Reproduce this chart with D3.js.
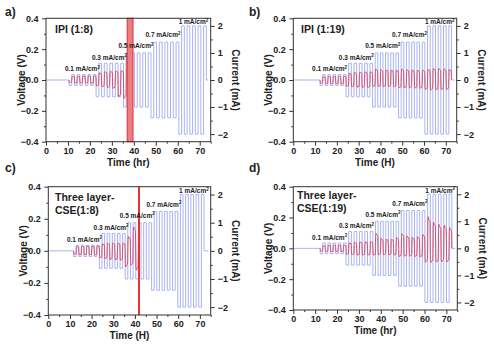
<!DOCTYPE html>
<html><head><meta charset="utf-8">
<script src="https://cdn.jsdelivr.net/npm/d3@7"></script>
<style>
body{margin:0;background:#fff}
svg{display:block}
text{font-family:"Liberation Sans",Arial,sans-serif;font-weight:bold;fill:#222}
</style>
</head><body><svg id="chart" width="494" height="348"></svg>
<script>
// ---------- shared data ----------
const xTicks = [0, 10, 20, 30, 40, 50, 60, 70];
const xMinor = [5, 15, 25, 35, 45, 55, 65, 75];
const vTicks = [-0.4, -0.2, 0, 0.2, 0.4];
const vMinor = [-0.3, -0.1, 0.1, 0.3];
const iTicks = [-2, -1, 0, 1, 2];
const iMinor = [-1.5, -0.5, 0.5, 1.5];
const densityLabels = ["0.1 mA/cm", "0.3 mA/cm", "0.5 mA/cm", "0.7 mA/cm", "1 mA/cm"];
const labelHr = [8.6, 20.9, 33.0, 45.3, 60.4];
const labelV = [0.057, 0.131, 0.205, 0.276, 0.36];
const currents = [0.2, 0.62, 1.0, 1.4, 2.0];   // mA per step

// ---------- panel a: IPI (1:8) ----------
const aStarts = [10.5, 22.8, 35.3, 47.8, 60.5];
const aEnd = 73.0;
const aTroughs = [-0.018, -0.02, -0.02, -0.021, -0.022, -0.04, -0.045, -0.05, -0.055, -0.11, -0.12];
const aPeaks   = [0.024, 0.026, 0.027, 0.028, 0.028, 0.048, 0.055, 0.058, 0.06, 0.062, 0.155];
const aFail = [37.0, 39.6];

// ---------- panel b: IPI (1:19) ----------
const bStarts = [12.3, 24.2, 36.4, 48.3, 60.4];
const bEnd = 72.6;
const bTroughs = [-0.022, -0.024, -0.025, -0.025, -0.026, -0.042, -0.046, -0.048, -0.05, -0.05,
                  -0.045, -0.043, -0.043, -0.044, -0.045, -0.052, -0.052, -0.052, -0.054, -0.055,
                  -0.062, -0.066, -0.065, -0.064, -0.062];
const bPeaks   = [0.022, 0.024, 0.025, 0.026, 0.026, 0.045, 0.05, 0.052, 0.054, 0.055,
                  0.072, 0.068, 0.066, 0.065, 0.065, 0.072, 0.068, 0.066, 0.065, 0.065,
                  0.07, 0.076, 0.075, 0.073, 0.07];

// ---------- panel c: Three layer-CSE (1:8) ----------
const cStarts = [11.7, 23.6, 35.5, 47.7, 59.8];
const cEnd = 71.9;
const cTroughs = [-0.022, -0.025, -0.025, -0.026, -0.027, -0.045, -0.05, -0.055, -0.058, -0.06, -0.1, -0.09, -0.12];
const cPeaks   = [0.028, 0.03, 0.03, 0.03, 0.031, 0.045, 0.048, 0.05, 0.05, 0.05, 0.09, 0.15, 0.25];
const cFail = [41.9];

// ---------- panel d: Three layer-CSE (1:19) ----------
const dStarts = [12.3, 24.1, 36.4, 48.2, 60.2];
const dEnd = 72.5;
const dTroughs = [-0.02, -0.022, -0.022, -0.022, -0.022, -0.04, -0.043, -0.045, -0.045, -0.045,
                  -0.045, -0.043, -0.043, -0.044, -0.045, -0.054, -0.052, -0.052, -0.054, -0.056,
                  -0.09, -0.092, -0.09, -0.088, -0.088];
const dPeaks   = [0.018, 0.02, 0.022, 0.022, 0.022, 0.036, 0.04, 0.043, 0.043, 0.045,
                  0.097, 0.065, 0.06, 0.06, 0.07, 0.095, 0.08, 0.072, 0.075, 0.09,
                  0.205, 0.17, 0.155, 0.15, 0.135];

// half-cycle voltage profile (fraction of half period, fraction of extreme)
const shapeFrac = [0.08, 0.22, 0.5, 0.88, 1.0];
const shapeVal  = [0.8, 1.0, 0.9, 0.85, 0.0];

// ---------- layout table built from the arrays ----------
const panels = [
  {tag: "a)", tagX: 5, tagY: 16, L: 46, R: 210.7, T: 18.3, B: 141.7, xTitle: "Time (hr)",
   title: ["IPI (1:8)"], titleX: 55, titleY: 33, starts: aStarts, end: aEnd,
   troughs: aTroughs, peaks: aPeaks, band: aFail},
  {tag: "b)", tagX: 249, tagY: 16, L: 293.3, R: 456.7, T: 18.3, B: 141.7, xTitle: "Time (H)",
   title: ["IPI (1:19)"], titleX: 301, titleY: 33, starts: bStarts, end: bEnd,
   troughs: bTroughs, peaks: bPeaks},
  {tag: "c)", tagX: 5, tagY: 172, L: 48.3, R: 210.7, T: 186.7, B: 315, xTitle: "Time (H)",
   title: ["Three layer-", "CSE(1:8)"], titleX: 55, titleY: 200.5, starts: cStarts, end: cEnd,
   troughs: cTroughs, peaks: cPeaks, line: cFail},
  {tag: "d)", tagX: 249, tagY: 172, L: 293.3, R: 457.3, T: 186.7, B: 310, xTitle: "Time (hr)",
   title: ["Three layer-", "CSE(1:19)"], titleX: 297, titleY: 198.5, starts: dStarts, end: dEnd,
   troughs: dTroughs, peaks: dPeaks}
];

const svg = d3.select("#chart");
const BLUE = "#a9b3f2", RED = "#d63f5d", AX = "#333";

panels.forEach((p, pi) => {
  const x = d3.scaleLinear().domain([0, 75]).range([p.L, p.R]);
  const yV = d3.scaleLinear().domain([-0.4, 0.4]).range([p.B, p.T]);
  const yI = d3.scaleLinear().domain([-2.28, 2.28]).range([p.B, p.T]);
  const g = svg.append("g");

  const clipId = "clip" + pi;
  g.append("clipPath").attr("id", clipId).append("rect")
    .attr("x", p.L).attr("y", p.T).attr("width", p.R - p.L).attr("height", p.B - p.T);

  // current square wave
  const bounds = p.starts.concat([p.end]);
  const cur = [[0, 0]];
  for (let b = 0; b < 5; b++) {
    const per = (bounds[b + 1] - bounds[b]) / 5;
    for (let k = 0; k < 5; k++) {
      const t0 = bounds[b] + k * per;
      cur.push([t0, -currents[b]]);
      cur.push([t0 + per / 2, currents[b]]);
    }
  }
  cur.push([p.end, 0]);
  cur.push([74, 0]);
  g.append("path").datum(cur)
    .attr("clip-path", `url(#${clipId})`)
    .attr("fill", "none").attr("stroke", BLUE).attr("stroke-width", 1)
    .attr("d", d3.line().x(d => x(d[0])).y(d => yI(d[1])).curve(d3.curveStepAfter));

  // voltage trace
  const vol = [[bounds[0], 0]];
  let c = 0;
  for (let b = 0; b < 5; b++) {
    const per = (bounds[b + 1] - bounds[b]) / 5;
    for (let k = 0; k < 5; k++, c++) {
      if (c >= p.troughs.length) break;
      const t0 = bounds[b] + k * per, h = per / 2;
      [[t0, p.troughs[c]], [t0 + h, p.peaks[c]]].forEach(([ts, amp]) => {
        shapeFrac.forEach((f, j) => vol.push([ts + f * h, amp * shapeVal[j]]));
      });
    }
  }
  let vClip = clipId;
  const stop = p.band ? p.band[0] : (p.line ? p.line[0] : null);
  if (stop !== null) {
    vClip = "vclip" + pi;
    g.append("clipPath").attr("id", vClip).append("rect")
      .attr("x", p.L).attr("y", p.T).attr("width", x(stop) - p.L).attr("height", p.B - p.T);
  }
  g.append("path").datum(vol)
    .attr("clip-path", `url(#${vClip})`)
    .attr("fill", "none").attr("stroke", RED).attr("stroke-width", 0.9)
    .attr("d", d3.line().x(d => x(d[0])).y(d => yV(d[1])).curve(d3.curveMonotoneX));

  // short-circuit markers
  if (p.band) {
    g.append("rect").attr("x", x(p.band[0])).attr("y", p.T)
      .attr("width", x(p.band[1]) - x(p.band[0])).attr("height", p.B - p.T)
      .attr("fill", "#ee7d80").attr("stroke", "#e0444a").attr("stroke-width", 1.2);
  }
  if (p.line) {
    g.append("line").attr("x1", x(p.line[0])).attr("x2", x(p.line[0]))
      .attr("y1", p.T).attr("y2", p.B).attr("stroke", "#e8302e").attr("stroke-width", 2);
  }

  // frame
  g.append("rect").attr("x", p.L).attr("y", p.T).attr("width", p.R - p.L).attr("height", p.B - p.T)
    .attr("fill", "none").attr("stroke", AX).attr("stroke-width", 1);

  // axes
  const styleAxis = sel => {
    sel.select(".domain").remove();
    sel.selectAll("line").attr("stroke", AX);
    sel.selectAll("text").attr("font-size", 9).attr("fill", "#222")
      .style("font-family", '"Liberation Sans",Arial,sans-serif').style("font-weight", "bold");
  };
  g.append("g").attr("transform", `translate(0,${p.B})`)
    .call(d3.axisBottom(x).tickValues(xTicks).tickSize(4).tickPadding(1.5).tickFormat(d3.format("d")))
    .call(styleAxis);
  g.append("g").attr("transform", `translate(0,${p.B})`)
    .call(d3.axisBottom(x).tickValues(xMinor).tickSize(2).tickFormat(""))
    .call(styleAxis);
  g.append("g").attr("transform", `translate(${p.L},0)`)
    .call(d3.axisLeft(yV).tickValues(vTicks).tickSize(4).tickPadding(3.5).tickFormat(d3.format(".1f")))
    .call(styleAxis);
  g.append("g").attr("transform", `translate(${p.L},0)`)
    .call(d3.axisLeft(yV).tickValues(vMinor).tickSize(2).tickFormat(""))
    .call(styleAxis);
  g.append("g").attr("transform", `translate(${p.R},0)`)
    .call(d3.axisRight(yI).tickValues(iTicks).tickSize(4).tickPadding(3).tickFormat(d3.format("d")))
    .call(styleAxis);
  g.append("g").attr("transform", `translate(${p.R},0)`)
    .call(d3.axisRight(yI).tickValues(iMinor).tickSize(2).tickFormat(""))
    .call(styleAxis);

  // axis titles
  g.append("text").attr("x", (p.L + p.R) / 2).attr("y", p.B + 24)
    .attr("text-anchor", "middle").attr("font-size", 10).text(p.xTitle);
  g.append("text").attr("transform", `translate(${p.L - 25},${(p.T + p.B) / 2}) rotate(-90)`)
    .attr("text-anchor", "middle").attr("dominant-baseline", "central")
    .attr("font-size", 10).text("Voltage (V)");
  g.append("text").attr("transform", `translate(${p.R + 25},${(p.T + p.B) / 2}) rotate(90)`)
    .attr("text-anchor", "middle").attr("dominant-baseline", "central")
    .attr("font-size", 10).text("Current (mA)");

  // density labels
  densityLabels.forEach((s, i) => {
    const t = g.append("text").attr("x", x(labelHr[i])).attr("y", yV(labelV[i]))
      .attr("font-size", 6.5).attr("fill", "#333").text(s);
    t.append("tspan").attr("dy", -2.5).attr("font-size", 4.5).text("2");
  });

  // sample title
  p.title.forEach((s, i) => {
    g.append("text").attr("x", p.titleX).attr("y", p.titleY + i * 13)
      .attr("font-size", 10.5).attr("fill", "#1a1a1a").text(s);
  });

  // panel tag
  svg.append("text").attr("x", p.tagX).attr("y", p.tagY).attr("font-size", 12)
    .attr("fill", "#111").text(p.tag);
});
</script>
</body></html>
